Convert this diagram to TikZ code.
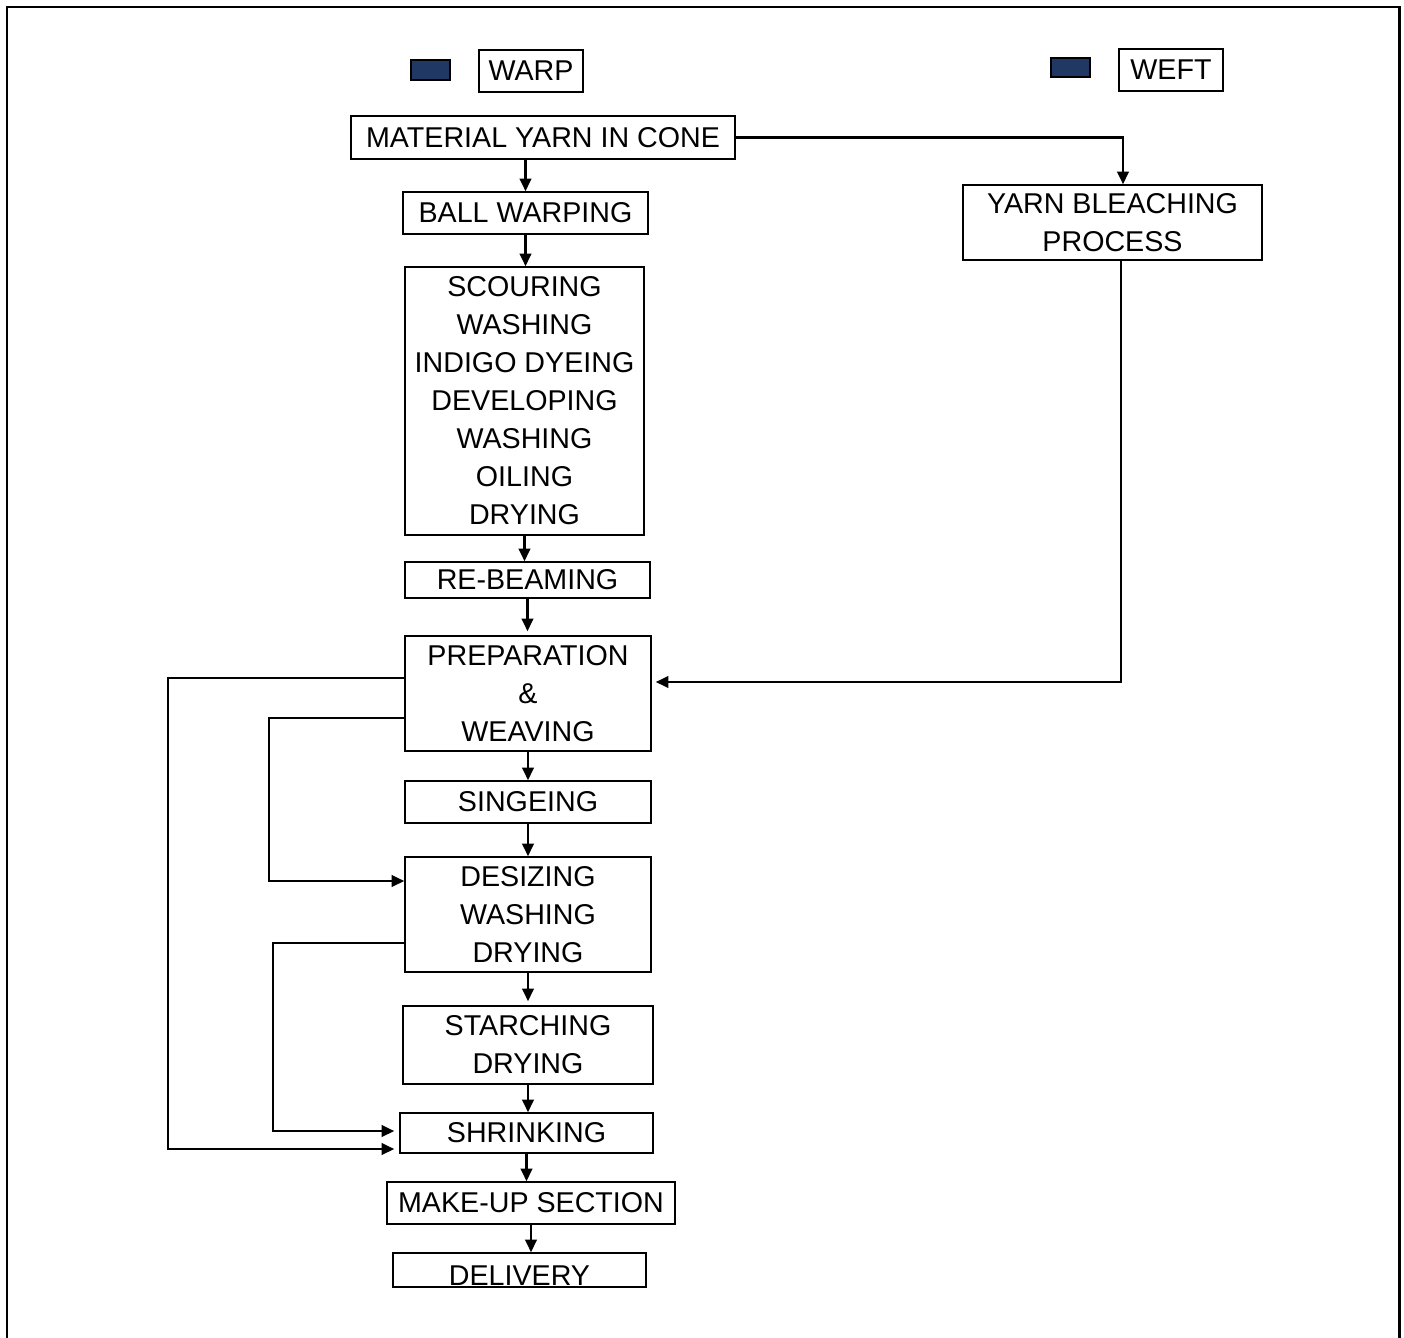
\documentclass[tikz,border=0pt]{standalone}
\usepackage{fontspec}
\setmainfont{Liberation Sans}
\usetikzlibrary{arrows.meta, calc}
\definecolor{keyblue}{HTML}{1F3864}

\begin{document}
\begin{tikzpicture}[>={Triangle[length=2.5mm, width=2.3mm]}, line width=1.3pt,
  proc/.style={draw, line width=0.9pt, inner sep=0pt, align=center,
    font=\fontsize{16.3}{21.6}\selectfont},
  keybox/.style={draw, fill=keyblue, line width=0.8pt, inner sep=0pt},
  arr/.style={->, line width=1.3pt}]

% Background
\useasboundingbox (0,0) rectangle (28.08,-26.76);
\draw[line width=1.7pt] (0.14,-26.9) -- (0.14,-0.14) -- (27.98,-0.14) -- (27.98,-26.9);

% Legend
\node[keybox, minimum width=0.78cm, minimum height=0.40cm] (warpkey) at (8.61,-1.40) {};
\node[proc, minimum width=2.08cm, minimum height=0.84cm] (warp) at (10.62,-1.42) {WARP};
\node[keybox, minimum width=0.78cm, minimum height=0.38cm] (weftkey) at (21.41,-1.35) {};
\node[proc, minimum width=2.08cm, minimum height=0.84cm] (weft) at (23.42,-1.40) {WEFT};

% Process boxes
\node[proc, minimum width=7.68cm, minimum height=0.86cm] (cone) at (10.86,-2.75) {MATERIAL YARN IN CONE};
\node[proc, minimum width=4.90cm, minimum height=0.84cm] (ball) at (10.51,-4.26) {BALL WARPING};
\node[proc, minimum width=5.98cm, minimum height=1.50cm] (bleach) at (22.25,-4.45) {YARN BLEACHING\\PROCESS};
\node[proc, minimum width=4.78cm, minimum height=5.36cm] (dye) at (10.49,-8.02)
  {SCOURING\\WASHING\\INDIGO DYEING\\DEVELOPING\\WASHING\\OILING\\DRYING};
\node[proc, minimum width=4.90cm, minimum height=0.72cm] (rebeam) at (10.55,-11.60) {RE-BEAMING};
\node[proc, minimum width=4.92cm, minimum height=2.30cm] (weave) at (10.56,-13.87) {PREPARATION\\\&\\WEAVING};
\node[proc, minimum width=4.92cm, minimum height=0.84cm] (singe) at (10.56,-16.04) {SINGEING};
\node[proc, minimum width=4.92cm, minimum height=2.30cm] (desize) at (10.56,-18.29) {DESIZING\\WASHING\\DRYING};
\node[proc, minimum width=5.00cm, minimum height=1.56cm] (starch) at (10.56,-20.90) {STARCHING\\DRYING};
\node[proc, minimum width=5.06cm, minimum height=0.80cm] (shrink) at (10.53,-22.66) {SHRINKING};
\node[proc, minimum width=5.76cm, minimum height=0.84cm] (makeup) at (10.62,-24.06) {MAKE-UP SECTION};
\node[proc, minimum width=5.06cm, minimum height=0.68cm, text height=0.6cm, text depth=0cm] (delivery) at (10.39,-25.40) {DELIVERY};

% Warp line
\draw[arr] (cone.south -| ball) -- (ball.north);
\draw[arr] (ball.south) -- (ball.south |- dye.north);
\draw[arr] (dye.south) -- (dye.south |- rebeam.north);
\draw[arr, shorten >=0.08cm] (rebeam.south) -- (rebeam.south |- weave.north);
\draw[arr] (weave.south) -- (weave.south |- singe.north);
\draw[arr] (singe.south) -- (singe.south |- desize.north);
\draw[arr, shorten >=0.08cm] (desize.south) -- (desize.south |- starch.north);
\draw[arr] (starch.south) -- (starch.south |- shrink.north);
\draw[arr] (shrink.south) -- (shrink.south |- makeup.north);
\draw[arr] (makeup.south) -- (makeup.south |- delivery.north);

% Weft line
\draw[arr] (cone.east) -| ([xshift=0.21cm]bleach.north);
\draw[arr, shorten >=0.08cm] ([xshift=0.17cm]bleach.south) |- ([yshift=0.23cm]weave.east);

% Bypass lines
\draw[arr, shorten >=0.1cm] ([yshift=0.31cm]weave.west) -- ++(-4.72,0) |- ([yshift=-0.32cm]shrink.west);
\draw[arr] ([yshift=-0.49cm]weave.west) -- ++(-2.70,0) |- ([yshift=0.67cm]desize.west);
\draw[arr, shorten >=0.1cm] ([yshift=-0.57cm]desize.west) -- ++(-2.62,0) |- ([yshift=0.04cm]shrink.west);

\end{tikzpicture}
\end{document}
